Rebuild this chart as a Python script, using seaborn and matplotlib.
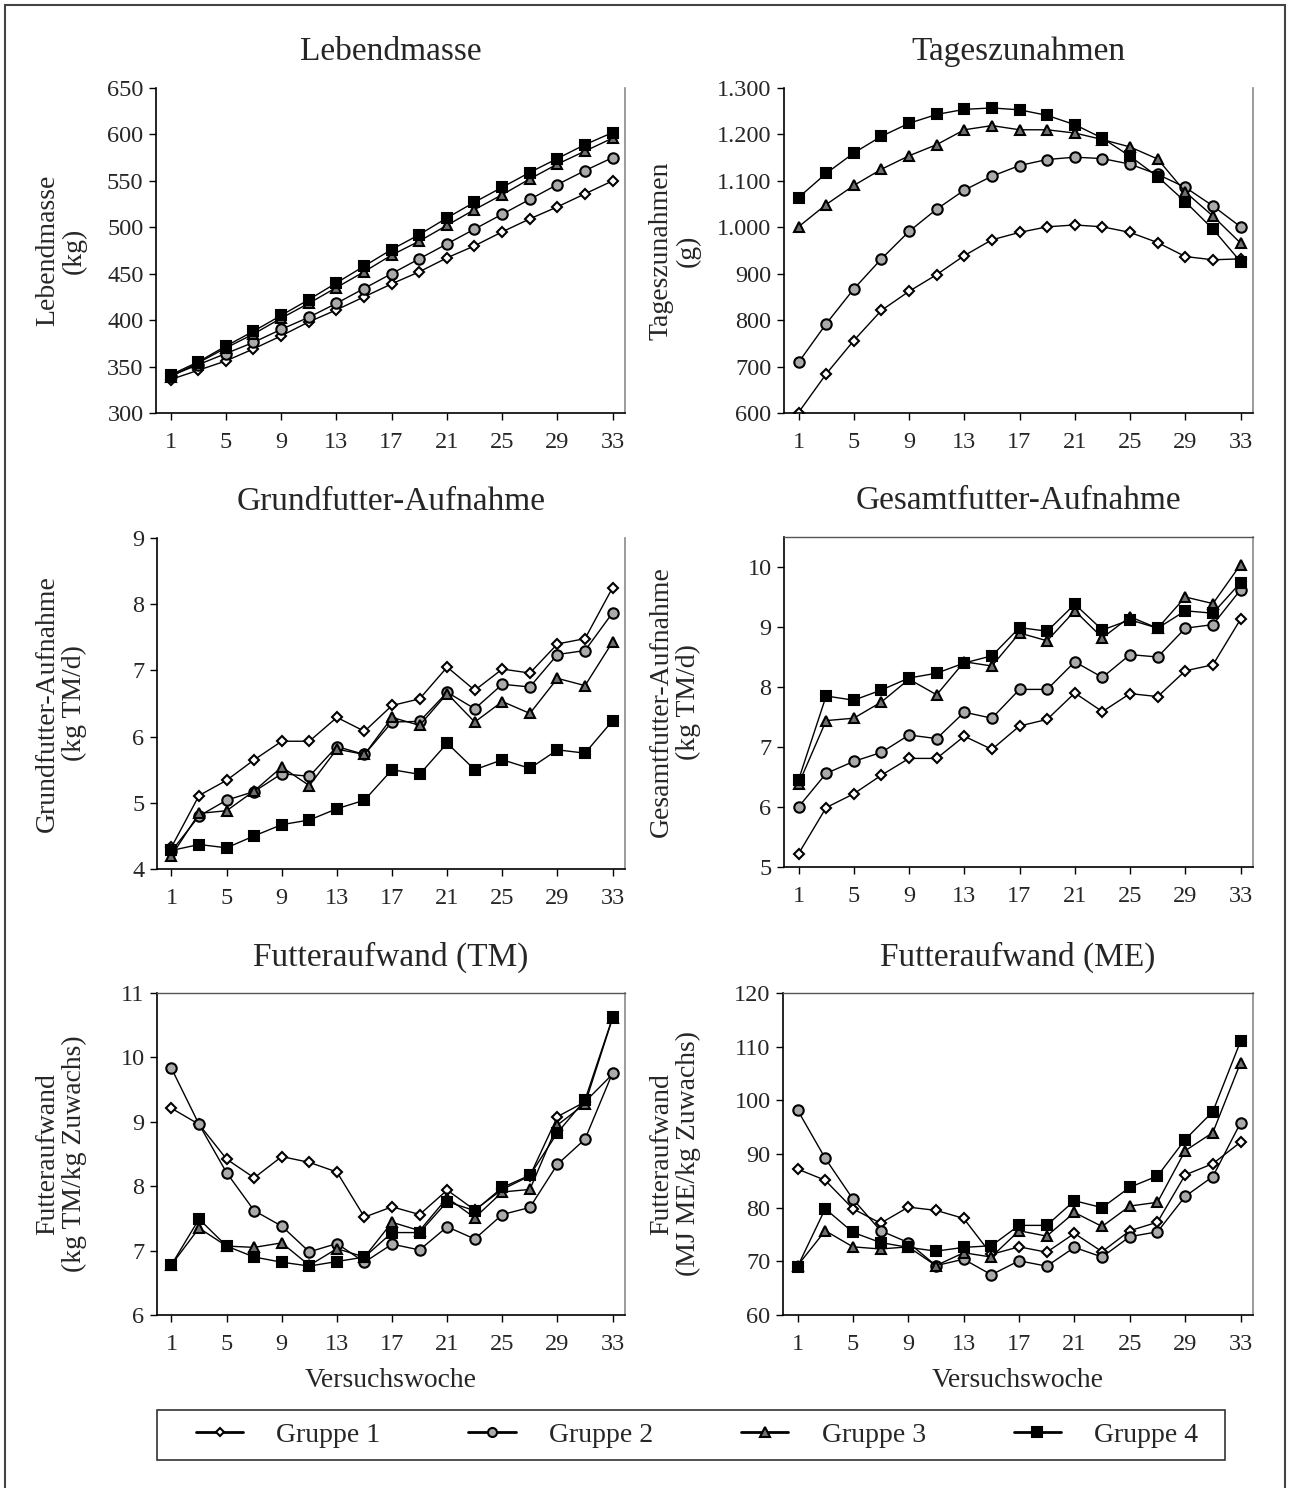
import numpy as np
import pandas as pd
import matplotlib
matplotlib.use('Agg')
import matplotlib.pyplot as plt
from matplotlib.lines import Line2D
from matplotlib.patches import Rectangle
from matplotlib.ticker import FuncFormatter
import seaborn as sns

sns.set_theme(style='white')
plt.rcParams['font.family'] = ['Liberation Serif', 'DejaVu Serif']

weeks = list(range(1, 34, 2))
groups = ['Gruppe 1', 'Gruppe 2', 'Gruppe 3', 'Gruppe 4']

# Lebendmasse (kg)
lm_g1 = [336, 346, 356, 369, 383, 398, 411, 425, 439, 452, 467, 480, 495, 509, 522, 536, 550]
lm_g2 = [340, 352, 364, 376, 390, 403, 418, 434, 450, 466, 482, 498, 514, 530, 546, 561, 575]
lm_g3 = [339, 354, 370, 385, 402, 418, 435, 452, 470, 485, 502, 519, 535, 552, 568, 582, 596]
lm_g4 = [341, 355, 372, 388, 405, 422, 440, 458, 476, 492, 510, 527, 543, 559, 574, 589, 602]

# Tageszunahmen (g)
tz_g1 = [601, 684, 756, 821, 862, 898, 939, 973, 989, 1001, 1005, 1001, 989, 967, 937, 930, 932]
tz_g2 = [709, 792, 867, 932, 991, 1039, 1080, 1110, 1133, 1146, 1151, 1148, 1136, 1114, 1086, 1046, 1001]
tz_g3 = [1001, 1049, 1090, 1125, 1154, 1178, 1210, 1219, 1210, 1210, 1203, 1189, 1173, 1147, 1076, 1024, 966]
tz_g4 = [1064, 1116, 1160, 1196, 1224, 1243, 1254, 1257, 1253, 1241, 1221, 1192, 1153, 1109, 1055, 996, 926]

# Grundfutter-Aufnahme (kg TM/d)
gf_g1 = [4.33, 5.11, 5.34, 5.65, 5.93, 5.93, 6.29, 6.08, 6.47, 6.57, 7.05, 6.70, 7.02, 6.96, 7.40, 7.48, 8.25]
gf_g2 = [4.27, 4.80, 5.04, 5.17, 5.44, 5.40, 5.85, 5.73, 6.22, 6.23, 6.67, 6.42, 6.79, 6.75, 7.24, 7.30, 7.87]
gf_g3 = [4.20, 4.84, 4.88, 5.18, 5.54, 5.26, 5.81, 5.73, 6.29, 6.17, 6.65, 6.22, 6.53, 6.35, 6.88, 6.77, 7.43]
gf_g4 = [4.28, 4.37, 4.32, 4.50, 4.67, 4.74, 4.91, 5.04, 5.50, 5.43, 5.90, 5.50, 5.65, 5.52, 5.80, 5.75, 6.24]

# Gesamtfutter-Aufnahme (kg TM/d)
ges_g1 = [5.22, 5.99, 6.22, 6.53, 6.81, 6.81, 7.18, 6.96, 7.35, 7.46, 7.90, 7.59, 7.89, 7.84, 8.27, 8.37, 9.13]
ges_g2 = [6.00, 6.56, 6.76, 6.91, 7.20, 7.14, 7.58, 7.48, 7.96, 7.96, 8.42, 8.16, 8.54, 8.50, 8.98, 9.04, 9.62]
ges_g3 = [6.38, 7.44, 7.48, 7.75, 8.13, 7.87, 8.42, 8.35, 8.90, 8.77, 9.27, 8.82, 9.17, 8.98, 9.50, 9.39, 10.04]
ges_g4 = [6.45, 7.85, 7.78, 7.95, 8.15, 8.23, 8.40, 8.52, 8.99, 8.93, 9.38, 8.95, 9.12, 8.98, 9.27, 9.23, 9.74]

# Futteraufwand TM (kg TM/kg Zuwachs)
fa_tm_g1 = [9.21, 8.96, 8.42, 8.13, 8.46, 8.37, 8.22, 7.52, 7.68, 7.56, 7.94, 7.63, 7.95, 8.16, 9.08, 9.31, 9.74]
fa_tm_g2 = [9.83, 8.96, 8.21, 7.62, 7.38, 6.98, 7.11, 6.82, 7.10, 7.01, 7.37, 7.18, 7.56, 7.67, 8.34, 8.73, 9.76]
fa_tm_g3 = [6.78, 7.35, 7.07, 7.05, 7.12, 6.77, 7.03, 6.90, 7.44, 7.31, 7.82, 7.51, 7.91, 7.95, 8.95, 9.28, 10.61]
fa_tm_g4 = [6.78, 7.49, 7.07, 6.90, 6.82, 6.76, 6.83, 6.90, 7.28, 7.28, 7.76, 7.62, 7.98, 8.17, 8.83, 9.34, 10.62]

# Futteraufwand ME (MJ ME/kg Zuwachs)
fa_me_g1 = [87.2, 85.1, 79.8, 77.1, 80.1, 79.5, 78.0, 71.3, 72.7, 71.7, 75.2, 71.8, 75.7, 77.3, 86.1, 88.2, 92.2]
fa_me_g2 = [98.2, 89.2, 81.6, 75.7, 73.5, 69.2, 70.4, 67.5, 70.1, 69.1, 72.6, 70.8, 74.6, 75.5, 82.1, 85.8, 95.8]
fa_me_g3 = [69.2, 75.7, 72.7, 72.3, 72.7, 69.2, 71.6, 70.8, 75.7, 74.7, 79.1, 76.5, 80.3, 81.0, 90.6, 94.0, 107.0]
fa_me_g4 = [69.0, 79.8, 75.4, 73.5, 72.6, 71.9, 72.6, 72.9, 76.7, 76.7, 81.3, 80.0, 83.8, 85.9, 92.7, 97.9, 111.0]

titles = ['Lebendmasse', 'Tageszunahmen', 'Grundfutter-Aufnahme',
          'Gesamtfutter-Aufnahme', 'Futteraufwand (TM)', 'Futteraufwand (ME)']
ylabels = ['Lebendmasse\n(kg)', 'Tageszunahmen\n(g)', 'Grundfutter-Aufnahme\n(kg TM/d)',
           'Gesamtfutter-Aufnahme\n(kg TM/d)', 'Futteraufwand\n(kg TM/kg Zuwachs)',
           'Futteraufwand\n(MJ ME/kg Zuwachs)']
panel_data = [
    [lm_g1, lm_g2, lm_g3, lm_g4],
    [tz_g1, tz_g2, tz_g3, tz_g4],
    [gf_g1, gf_g2, gf_g3, gf_g4],
    [ges_g1, ges_g2, ges_g3, ges_g4],
    [fa_tm_g1, fa_tm_g2, fa_tm_g3, fa_tm_g4],
    [fa_me_g1, fa_me_g2, fa_me_g3, fa_me_g4],
]
ylims = [(300, 650), (600, 1300), (4, 9), (5, 10.5), (6, 11), (60, 120)]
ysteps = [50, 100, 1, 1, 1, 10]

markers = ['D', 'o', '^', 's']
facecolors = ['white', '#aaaaaa', '#707070', 'black']
msizes = [5.5, 7.5, 7.5, 7.5]

W, H = 1290, 1488
fig = plt.figure(figsize=(W / 100, H / 100), dpi=100)

# pixel boxes of the six plot areas (left, top, right, bottom)
boxes = [
    (156, 88, 625, 413), (784, 88, 1253, 413),
    (157, 538, 625, 869), (784, 537, 1253, 867),
    (157, 993, 625, 1315), (783, 993, 1253, 1315),
]
ylabel_x = [61, 675]
show_top = [False, False, False, True, True, True]

for i in range(6):
    l, t, r, b = boxes[i]
    ax = fig.add_axes([l / W, 1 - b / H, (r - l) / W, (b - t) / H])
    for g in range(4):
        df = pd.DataFrame({'Woche': weeks, 'Wert': panel_data[i][g]})
        sns.lineplot(data=df, x='Woche', y='Wert', ax=ax, color='black', linewidth=1.0,
                     marker=markers[g], markersize=msizes[g], markerfacecolor=facecolors[g],
                     markeredgecolor='black', markeredgewidth=1.5)
    ax.set_xlim(-0.05, 33.9)
    ax.set_ylim(*ylims[i])
    lo, hi = ylims[i]
    ax.set_yticks(np.arange(lo, np.floor(hi) + 0.001, ysteps[i]))
    ax.set_xticks(range(1, 34, 4))
    if i == 1:
        ax.yaxis.set_major_formatter(FuncFormatter(lambda v, p: f'{int(v):,}'.replace(',', '.')))
    else:
        ax.yaxis.set_major_formatter(FuncFormatter(lambda v, p: f'{v:g}'))
    ax.set_xlabel('Versuchswoche' if i >= 4 else '', fontsize=20, labelpad=9)
    ax.set_ylabel('')
    ax.tick_params(axis='y', which='major', direction='out', length=5, width=1,
                   color='black', labelsize=17.5, pad=4, left=True)
    ax.tick_params(axis='x', which='major', direction='out', length=5, width=1,
                   color='black', labelsize=17.5, pad=9, bottom=True)
    for s in ['left', 'bottom']:
        ax.spines[s].set_color('black')
        ax.spines[s].set_linewidth(1.2)
    ax.spines['right'].set_color('#8a8a8a')
    ax.spines['right'].set_linewidth(1.2)
    ax.spines['top'].set_color('#555555')
    ax.spines['top'].set_linewidth(1.0)
    ax.spines['top'].set_visible(show_top[i])
    fig.text(((l + r) / 2) / W, 1 - (t - 36) / H, titles[i], fontsize=24,
             ha='center', va='center')
    fig.text(ylabel_x[i % 2] / W, 1 - ((t + b) / 2) / H, ylabels[i], fontsize=20,
             rotation=90, ha='center', va='center', multialignment='center', linespacing=1.1)

handles = [Line2D([0], [0], color='black', linewidth=2, marker=markers[g], markersize=msizes[g] - 1,
                  markerfacecolor=facecolors[g], markeredgecolor='black', markeredgewidth=1.5)
           for g in range(4)]
leg = fig.legend(handles, groups, loc='center', ncol=4, mode='expand',
                 bbox_to_anchor=(182 / W, 1 - 1460 / H, (1212 - 182) / W, 50 / H),
                 fontsize=20, frameon=False, handlelength=1.7,
                 handletextpad=1.2, borderaxespad=0, borderpad=0.5)

fig.patches.append(Rectangle((157 / W, 1 - 1460 / H), (1225 - 157) / W, 50 / H,
                             transform=fig.transFigure, fill=False,
                             edgecolor='#333333', linewidth=1.2))
fig.patches.append(Rectangle((5 / W, -0.01), (W - 10) / W, 1.01 - 5 / H, transform=fig.transFigure,
                             fill=False, edgecolor='#444444', linewidth=1.5))

fig.savefig('out.png', dpi=100)
